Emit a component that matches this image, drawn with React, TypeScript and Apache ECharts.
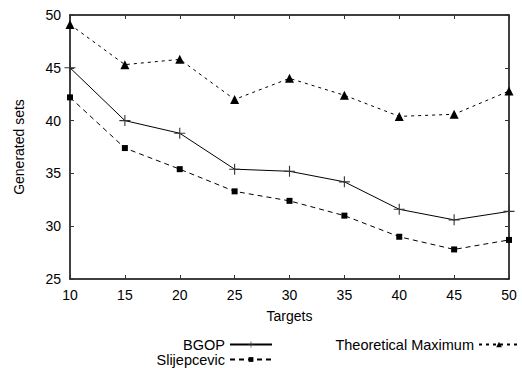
import React, { useEffect, useRef } from "react";
import * as echarts from "echarts";

const targets = [10, 15, 20, 25, 30, 35, 40, 45, 50];
const bgop = [45, 40, 38.8, 35.4, 35.2, 34.2, 31.6, 30.6, 31.4];
const slijepcevic = [42.2, 37.4, 35.4, 33.3, 32.4, 31.0, 29.0, 27.8, 28.7];
const theoreticalMax = [49.1, 45.3, 45.8, 42.0, 44.0, 42.4, 40.4, 40.6, 42.8];

const FONT = "'Liberation Sans', Arial, sans-serif";
const PLUS = "path://M4.5,0H5.5V4.5H10V5.5H5.5V10H4.5V5.5H0V4.5H4.5Z";

export default function App() {
  const ref = useRef<HTMLDivElement>(null);
  useEffect(() => {
    const chart = echarts.init(ref.current!, null, { renderer: "svg" });
    const pts = (ys: number[]) => targets.map((x, i) => [x, ys[i]]);
    const axisLine = { show: true, lineStyle: { color: "#000", width: 1.5 } };
    const tick = { show: true, inside: true, length: 4, lineStyle: { color: "#333", width: 1 } };
    const label = { color: "#000", fontFamily: FONT, fontSize: 14 };
    const legendText = { color: "#000", fontFamily: FONT, fontSize: 14.5, padding: 0, lineHeight: 15 };
    chart.setOption({
      animation: false,
      backgroundColor: "#fff",
      textStyle: { fontFamily: FONT },
      grid: { left: 70, right: 13, top: 15, bottom: 89 },
      xAxis: [
        {
          type: "value", min: 10, max: 50, interval: 5, position: "bottom",
          axisLine, axisTick: tick, splitLine: { show: false },
          axisLabel: { ...label, margin: 9 },
          name: "Targets", nameLocation: "middle", nameGap: 30,
          nameTextStyle: { color: "#000", fontFamily: FONT, fontSize: 14 },
        },
        {
          type: "value", min: 10, max: 50, interval: 5, position: "top",
          axisLine, axisTick: tick, splitLine: { show: false }, axisLabel: { show: false },
        },
      ],
      yAxis: [
        {
          type: "value", min: 25, max: 50, interval: 5, position: "left",
          axisLine, axisTick: tick, splitLine: { show: false },
          axisLabel: { ...label, margin: 9 },
          name: "Generated sets", nameLocation: "middle", nameGap: 44,
          nameTextStyle: { color: "#000", fontFamily: FONT, fontSize: 14 },
        },
        {
          type: "value", min: 25, max: 50, interval: 5, position: "right",
          axisLine, axisTick: tick, splitLine: { show: false }, axisLabel: { show: false },
        },
      ],
      legend: [
        {
          data: ["BGOP"], right: 249, top: 337, padding: 0, align: "right",
          itemWidth: 42, itemHeight: 8, itemGap: 0, textStyle: legendText,
        },
        {
          data: ["Slijepcevic"], right: 249, top: 352, padding: 0, align: "right",
          itemWidth: 42, itemHeight: 6, itemGap: 0, textStyle: legendText,
        },
        {
          data: ["Theoretical Maximum"], right: 2, top: 337, padding: 0, align: "right",
          itemWidth: 40, itemHeight: 7, itemGap: 0, textStyle: legendText,
        },
      ],
      series: [
        {
          name: "BGOP", type: "line", data: pts(bgop),
          symbol: PLUS, symbolSize: 11,
          lineStyle: { color: "#000", width: 1 },
          itemStyle: { color: "#333" },
        },
        {
          name: "Slijepcevic", type: "line", data: pts(slijepcevic),
          symbol: "rect", symbolSize: 6,
          lineStyle: { color: "#000", width: 1, type: [5, 4] },
          itemStyle: { color: "#000" },
        },
        {
          name: "Theoretical Maximum", type: "line", data: pts(theoreticalMax),
          symbol: "triangle", symbolSize: 9,
          lineStyle: { color: "#000", width: 1, type: [3, 4] },
          itemStyle: { color: "#000" },
        },
      ],
    });
    return () => chart.dispose();
  }, []);
  return (
    <div
      ref={ref}
      style={{ position: "fixed", left: 0, top: 0, width: 522, height: 368, background: "#fff" }}
    />
  );
}
